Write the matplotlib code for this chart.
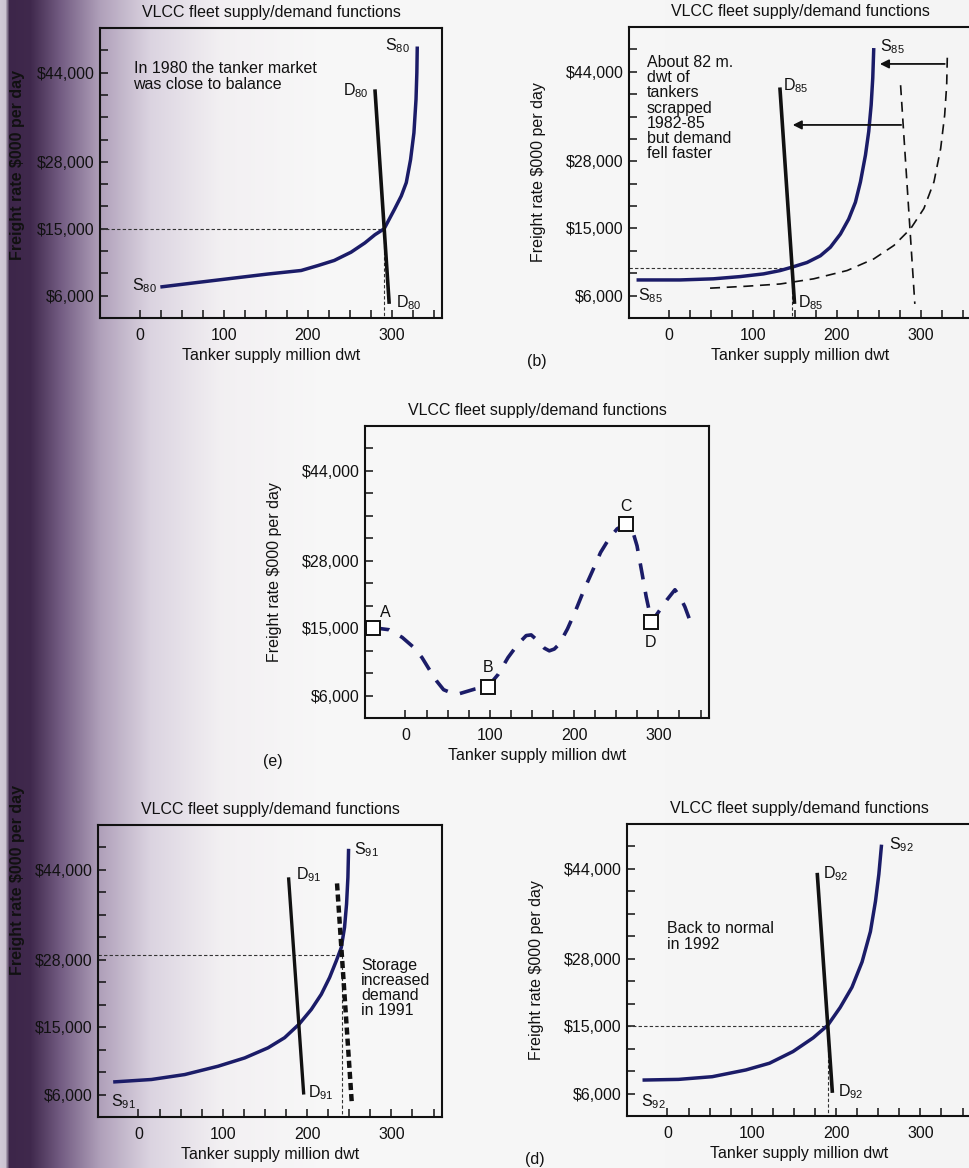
"""VLCC fleet supply/demand functions - five schematic panels (scanned page look)."""

import numpy as np
import matplotlib
matplotlib.use("Agg")
import matplotlib.pyplot as plt

plt.rcParams['font.family'] = ['Liberation Sans', 'DejaVu Sans']
plt.rcParams['mathtext.fontset'] = 'custom'
plt.rcParams['mathtext.rm'] = 'Liberation Sans'
plt.rcParams['mathtext.default'] = 'rm'

# --- schematic rate axis (labels evenly spaced in ticks, not in dollars) ---
RATE_STOPS = [3000, 6000, 15000, 28000, 44000, 52000]
POS_STOPS = [-1, 0, 3, 6, 10, 12]
rate_tick_labels = ['$6,000', '', '', '$15,000', '', '', '$28,000', '', '', '', '$44,000', '']
supply_ticks = list(range(0, 351, 25))
supply_tick_labels = [str(v) if v % 100 == 0 else '' for v in supply_ticks]

TITLE = 'VLCC fleet supply/demand functions'
XLABEL = 'Tanker supply million dwt'
YLABEL = 'Freight rate $000 per day'

# --- (a) 1980 ---
s80_x = [24, 72, 112, 152, 192, 212, 231.5, 251.5, 268, 280, 291, 303.4, 311.4, 317.4,
         322.5, 326.5, 329, 330, 330.5]
s80_rate = [7170, 7830, 8370, 8910, 9390, 10050, 10740, 11850, 13100, 14200, 15000, 18810,
            21370, 23970, 28400, 33200, 39200, 44000, 48680]
d80_x = [280, 297]
d80_rate = [41000, 4900]
eq80 = (291, 15000)

# --- (b) 1985 ---
s85_x = [-39, 12.8, 52.6, 84.6, 112.4, 132.4, 146.4, 164.4, 180.3, 192.2, 204.2, 214.1,
         222.1, 228.1, 234.1, 238, 240.9, 242.8, 244]
s85_rate = [8100, 8100, 8250, 8550, 8910, 9360, 9810, 10440, 11340, 12480, 14250, 16820,
            20070, 24010, 29120, 33320, 38080, 42880, 48240]
d85_x = [132, 149.5]
d85_rate = [41200, 4890]
s_old_x = [48.7, 92.6, 132.4, 172.2, 212.2, 244, 268, 288, 303.8, 315.8, 323.8, 328.6,
           331, 331.8]
s_old_rate = [7000, 7260, 7560, 8250, 9360, 10920, 12720, 14970, 18860, 24010, 30280,
              36280, 41680, 47040]
d_old_x = [276, 293]
d_old_rate = [41600, 4890]
eq85 = (146, 9700)
arrow_hi = (332, 248, 45400)
arrow_lo = (280, 144, 34500)

# --- (e) cycle path ---
cycle_x = [-38.4, -19.5, -3.9, 9.9, 19.6, 29.4, 37.3, 45.2, 54.9, 62.8, 72.6, 82.4, 98.1,
           109.9, 121.6, 133.4, 143.2, 149.1, 156.9, 164.7, 170.6, 176.5, 182.4, 192.2,
           202, 211.8, 221.6, 231.4, 241.2, 251, 261.6, 268.7, 274.6, 280.5, 285.5, 289.4,
           291.4, 297.3, 309.9, 319.6, 325.5, 331.4, 338.1]
cycle_rate = [15090, 14790, 13770, 12420, 11070, 9270, 7890, 6780, 6330, 6210, 6540, 6870,
              7230, 8820, 11070, 12870, 14010, 14100, 13320, 12330, 11970, 12210, 12870,
              14910, 18470, 22410, 25960, 29480, 31880, 33680, 34600, 33680, 30680, 25660,
              21070, 18120, 16170, 17470, 20420, 22410, 21070, 19120, 16170]
point_names = ['A', 'B', 'C', 'D']
point_x = [-38, 98, 262, 291]
point_rate = [15000, 7200, 34600, 16200]

# --- (c) 1991 ---
s91_x = [-30, 15.4, 54.9, 94.4, 126, 153.7, 173.3, 190.4, 205, 216.8, 226.7, 234.6, 240.5,
         244.4, 246.8, 248.4, 249.2]
s91_rate = [7680, 8010, 8670, 9780, 10890, 12240, 13590, 15560, 18420, 21330, 24580, 27780,
            30160, 33760, 37920, 42680, 47760]
d91_x = [178, 196]
d91_rate = [42680, 6000]
d_storage_x = [235.5, 253]
d_storage_rate = [41600, 4890]
eq91 = (241, 28800)

# --- (d) 1992 ---
s92_x = [-29.6, 13.2, 53.1, 93, 121, 148.9, 172.8, 190, 204.8, 218.8, 230.8, 240.7, 246.7,
         250.7, 253.9]
s92_rate = [7800, 7890, 8250, 9150, 10050, 11610, 13440, 15150, 18600, 22500, 27390, 32840,
            38240, 43040, 48320]
d92_x = [177.6, 195.6]
d92_rate = [43300, 6090]
eq92 = (190, 15000)

NAVY = '#1b1c68'
INK = '#111111'
FS = 11.5
W, H = 970, 1168


def fwd(v):
    return np.interp(v, RATE_STOPS, POS_STOPS)


def inv(p):
    return np.interp(p, POS_STOPS, RATE_STOPS)


def px_axes(fig, left, top, right, bottom):
    return fig.add_axes([left / W, 1 - bottom / H, (right - left) / W, (bottom - top) / H])


def setup(ax, ylabel=True, tag=None):
    ax.set_facecolor('none')
    ax.set_yscale('function', functions=(fwd, inv))
    ax.set_xlim(-48, 360)
    ax.set_ylim(inv(-1), inv(12))
    ax.set_yticks(inv(np.arange(12)))
    ax.set_yticklabels(rate_tick_labels)
    ax.set_xticks(supply_ticks)
    ax.set_xticklabels(supply_tick_labels)
    ax.minorticks_off()
    ax.tick_params(direction='in', length=6, width=1.1, labelsize=FS, colors=INK, pad=4)
    ax.tick_params(axis='x', pad=7)
    for sp in ax.spines.values():
        sp.set_linewidth(1.5)
        sp.set_color(INK)
    ax.set_title(TITLE, fontsize=FS, pad=8, color=INK)
    ax.set_xlabel(XLABEL, fontsize=FS, labelpad=4, color=INK)
    if ylabel:
        ax.set_ylabel(YLABEL, fontsize=FS, labelpad=14, color=INK)
    if tag:
        ax.text(-0.297, -0.165, tag, transform=ax.transAxes, fontsize=FS, color=INK)


def guide(ax, eq):
    x, r = eq
    ax.plot([-48, x], [r, r], color='#333333', lw=0.8, ls=(0, (3, 2)))
    ax.plot([x, x], [r, inv(-1)], color='#333333', lw=0.8, ls=(0, (3, 2)))


def lab(ax, x, r, base, sub, ha='left'):
    ax.text(x, r, base + '$_{' + sub + '}$', fontsize=FS, ha=ha, va='center', color=INK)


def note(ax, x, r, s):
    ax.text(x, r, s, fontsize=FS, va='top', linespacing=1.02, color=INK)


fig = plt.figure(figsize=(W / 100, H / 100), dpi=100)

# scanned page gutter shading
bg = fig.add_axes([0, 0, 1, 1], zorder=-10)
stops_px = [0, 5, 9, 30, 60, 100, 150, 220, 320, 970]
stops_rgb = np.array([[0.82, 0.79, 0.84], [0.80, 0.77, 0.82], [0.24, 0.15, 0.29],
                      [0.25, 0.16, 0.30], [0.45, 0.36, 0.51], [0.69, 0.63, 0.73],
                      [0.86, 0.83, 0.88], [0.95, 0.94, 0.95], [0.97, 0.97, 0.97],
                      [0.96, 0.96, 0.96]])
cols = np.arange(W)
grad = np.stack([np.interp(cols, stops_px, stops_rgb[:, k]) for k in range(3)], axis=-1)
bg.imshow(grad[None, :, :], aspect='auto', extent=[0, 1, 0, 1])
bg.set_axis_off()

# (a)
ax = px_axes(fig, 100, 28, 442, 318)
setup(ax, ylabel=False)
guide(ax, eq80)
ax.plot(s80_x, s80_rate, color=NAVY, lw=2.5, solid_capstyle='butt', solid_joinstyle='round')
ax.plot(d80_x, d80_rate, color=INK, lw=2.6, solid_capstyle='butt')
lab(ax, 321, 48800, 'S', '80', ha='right')
lab(ax, 20, 7350, 'S', '80', ha='right')
lab(ax, 272, 40800, 'D', '80', ha='right')
lab(ax, 305, 5100, 'D', '80')
note(ax, -8, 46000, 'In 1980 the tanker market\nwas close to balance')
fig.text(18 / W, 1 - 165 / H, YLABEL, rotation=90, ha='center', va='center',
         fontsize=FS, color=INK, fontweight='bold')

# (b)
ax = px_axes(fig, 629, 27, 971, 318)
setup(ax, tag='(b)')
guide(ax, eq85)
ax.plot(s_old_x, s_old_rate, color=INK, lw=1.2, ls=(0, (6, 4)))
ax.plot(d_old_x, d_old_rate, color=INK, lw=1.2, ls=(0, (6, 4)))
ax.plot(s85_x, s85_rate, color=NAVY, lw=2.5, solid_capstyle='butt', solid_joinstyle='round')
ax.plot(d85_x, d85_rate, color=INK, lw=2.6, solid_capstyle='butt')
for x0, x1, r in (arrow_hi, arrow_lo):
    ax.annotate('', xy=(x1, r), xytext=(x0, r),
                arrowprops=dict(arrowstyle='-|>', color=INK, lw=1.3, mutation_scale=13))
lab(ax, 252, 48400, 'S', '85')
lab(ax, 136, 41600, 'D', '85')
lab(ax, -37, 6000, 'S', '85')
lab(ax, 154, 5100, 'D', '85')
note(ax, -27, 47000, 'About 82 m.\ndwt of\ntankers\nscrapped\n1982-85\nbut demand\nfell faster')

# (e)
ax = px_axes(fig, 365, 426, 709, 718)
setup(ax, tag='(e)')
ax.plot(cycle_x, cycle_rate, color=NAVY, lw=2.6, ls=(0, (4.5, 3.5)))
ax.plot(point_x, point_rate, ls='none', marker='s', ms=9.5, mfc='white', mec=INK, mew=1.4)
ax.text(-24, 18100, 'A', fontsize=FS, ha='center', va='center', color=INK)
ax.text(98, 9800, 'B', fontsize=FS, ha='center', va='center', color=INK)
ax.text(262, 37600, 'C', fontsize=FS, ha='center', va='center', color=INK)
ax.text(291, 13100, 'D', fontsize=FS, ha='center', va='center', color=INK)

# (c) 1991
ax = px_axes(fig, 98, 825, 442, 1117)
setup(ax, ylabel=False)
guide(ax, eq91)
ax.plot(s91_x, s91_rate, color=NAVY, lw=2.5, solid_capstyle='butt', solid_joinstyle='round')
ax.plot(d91_x, d91_rate, color=INK, lw=2.4, solid_capstyle='butt')
ax.plot(d_storage_x, d_storage_rate, color=INK, lw=3.2, ls=(0, (1.6, 0.9)))
lab(ax, 256, 47600, 'S', '91')
lab(ax, 187, 43200, 'D', '91')
lab(ax, 201, 6300, 'D', '91')
lab(ax, -32, 5100, 'S', '91')
note(ax, 264, 28400, 'Storage\nincreased\ndemand\nin 1991')
fig.text(18 / W, 1 - 880 / H, YLABEL, rotation=90, ha='center', va='center',
         fontsize=FS, color=INK, fontweight='bold')

# (d) 1992
ax = px_axes(fig, 627, 824, 971, 1116)
setup(ax, tag='(d)')
guide(ax, eq92)
ax.plot(s92_x, s92_rate, color=NAVY, lw=2.5, solid_capstyle='butt', solid_joinstyle='round')
ax.plot(d92_x, d92_rate, color=INK, lw=2.6, solid_capstyle='butt')
lab(ax, 263, 48400, 'S', '92')
lab(ax, 185, 43200, 'D', '92')
lab(ax, -31, 4950, 'S', '92')
lab(ax, 202, 6300, 'D', '92')
note(ax, -1, 34640, 'Back to normal\nin 1992')

fig.savefig('out.png', dpi=100)
